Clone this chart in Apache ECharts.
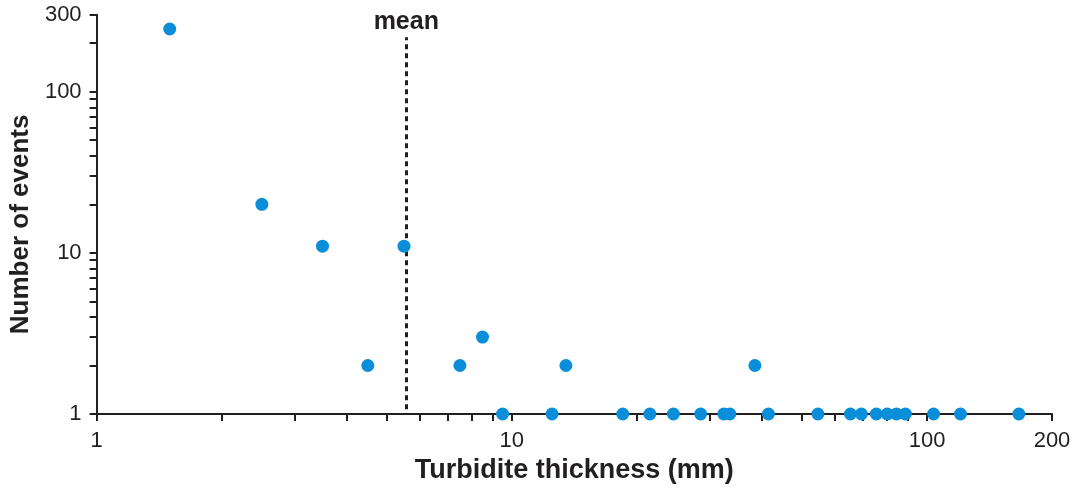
<!DOCTYPE html>
<html>
<head>
<meta charset="utf-8">
<script src="https://cdn.jsdelivr.net/npm/echarts@6/dist/echarts.min.js"></script>
<style>
html,body{margin:0;padding:0;background:#fff;}
#c{width:1075px;height:492px;}
</style>
</head>
<body>
<div id="c"></div>
<script>
// Turbidite thickness (mm) and number of events
const thickness = [1.5, 2.5, 3.5, 4.5, 5.5, 7.5, 8.5, 9.5, 12.5, 13.5, 18.5, 21.5, 24.5, 28.5, 32.4, 33.5, 38.5, 41.5, 54.6, 65.4, 69.5, 75.5, 80.2, 84.4, 88.7, 103.7, 120.4, 166.4];
const events    = [245, 20, 11, 2, 11, 2, 3, 1, 1, 2, 1, 1, 1, 1, 1, 1, 2, 1, 1, 1, 1, 1, 1, 1, 1, 1, 1, 1];
const meanThickness = 5.57;
const meanLineRange = [1.07, 218];
const xLabelValues = [1, 10, 100, 200];
const xTickValues = [1, 2, 3, 4, 5, 6, 7, 8, 9, 10, 20, 30, 40, 50, 60, 70, 80, 90, 100, 200];
const yLabelValues = [1, 10, 100, 300];
const yTickValues = [1, 2, 3, 4, 5, 6, 7, 8, 9, 10, 20, 30, 40, 50, 60, 70, 80, 90, 100, 200, 300];

const dark = '#231f20';
const font = 'Liberation Sans, Arial, Helvetica, sans-serif';
const chart = echarts.init(document.getElementById('c'), null, {renderer: 'canvas'});
const points = thickness.map((t, i) => [t, events[i]]);

chart.setOption({
  animation: false,
  backgroundColor: '#fff',
  grid: {left: 94.7, right: 23, top: 14.8, bottom: 78, containLabel: false},
  xAxis: {
    type: 'log', logBase: 10, min: 1, max: 200,
    name: 'Turbidite thickness (mm)', nameLocation: 'middle', nameGap: 42,
    nameTextStyle: {fontFamily: font, fontSize: 27, fontWeight: 'bold', color: dark},
    axisLine: {show: true, lineStyle: {color: dark, width: 2}},
    axisTick: {show: true, length: 7, lineStyle: {color: dark, width: 2}, customValues: xTickValues},
    axisLabel: {show: true, margin: 16, fontFamily: font, fontSize: 22, color: dark,
      customValues: xLabelValues, formatter: v => String(Math.round(v))},
    splitLine: {show: false}, minorTick: {show: false}
  },
  yAxis: {
    type: 'log', logBase: 10, min: 1, max: 300,
    name: 'Number of events', nameLocation: 'middle', nameGap: 59,
    nameTextStyle: {fontFamily: font, fontSize: 26, fontWeight: 'bold', color: dark, padding: [0, 20, 0, 0]},
    axisLine: {show: true, lineStyle: {color: dark, width: 2}},
    axisTick: {show: true, length: 7, lineStyle: {color: dark, width: 2}, customValues: yTickValues},
    axisLabel: {show: true, margin: 15, fontFamily: font, fontSize: 22, color: dark,
      customValues: yLabelValues, formatter: v => String(Math.round(v))},
    splitLine: {show: false}, minorTick: {show: false}
  },
  series: [{
    type: 'scatter',
    data: [],
    z: 2,
    markLine: {
      silent: true,
      symbol: ['none', 'none'],
      lineStyle: {color: dark, width: 3, type: [5, 4], opacity: 1},
      label: {show: true, position: 'end', formatter: 'mean', distance: 3,
        fontFamily: font, fontSize: 25, fontWeight: 'bold', color: dark},
      emphasis: {disabled: true},
      data: [[{coord: [meanThickness, meanLineRange[0]]}, {coord: [meanThickness, meanLineRange[1]]}]]
    }
  }, {
    type: 'scatter',
    data: points,
    symbol: 'circle',
    symbolSize: 13,
    itemStyle: {color: '#0b8ed9', opacity: 1},
    z: 5
  }]
});
</script>
</body>
</html>
